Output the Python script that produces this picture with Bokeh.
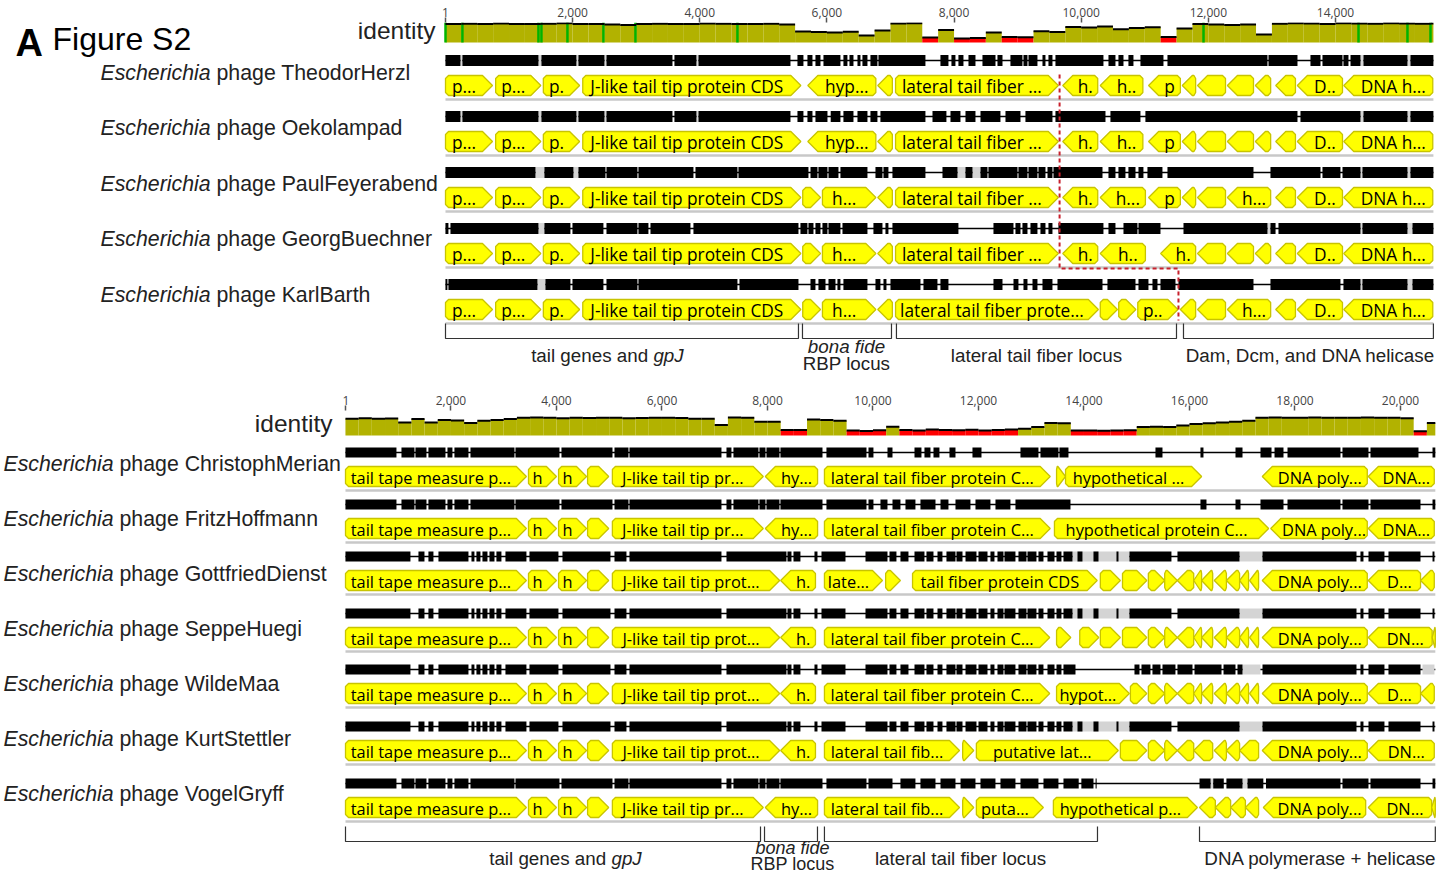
import numpy as np
from bokeh.plotting import figure
from bokeh.layouts import column, row
from bokeh.models import Range1d, FixedTicker, NumeralTickFormatter
from bokeh.core.properties import value
from bokeh.embed import file_html
from bokeh.resources import INLINE

# ======================= DATA : upper panel =======================
TOP_LENGTH = 15540
TOP_TICKS = [1, 2000, 4000, 6000, 8000, 10000, 12000, 14000]
TOP_PHAGES = ["TheodorHerzl", "Oekolampad", "PaulFeyerabend", "GeorgBuechner", "KarlBarth"]
IDENTITY_BIN = 250
TOP_IDENTITY = [93, 94, 92, 95, 93, 92, 94, 96, 93, 92, 90, 88, 93, 94, 92, 93, 95, 94, 93, 92, 94, 90,
                55, 52, 50, 54, 35, 60, 95, 96, 25, 62, 20, 22, 50, 28, 26, 56, 52,
                78, 75, 80, 66, 72, 76, 28, 70, 92, 90, 88, 90, 40,
                94, 96, 95, 93, 96, 95, 94, 96, 95, 94, 95]
TOP_FULL_IDENTITY = [1, 267, 1463, 1510, 1919, 2485, 2989, 4593, 11924, 14362, 15132, 15494]
TOP_BOUNDARY = [9660, 11530]
TOP_LOCUS_START = [1, 5616, 7094, 11609]
TOP_LOCUS_END = [5553, 7016, 11499, 15540]
TOP_LOCUS_LABEL_AT = [2548, 6308, 9296, 13606]

TH_GENES = [(1, 740, 1, "p..."), (790, 1500, 1, "p..."), (1540, 2110, 1, "p."),
            (2160, 5590, 1, "J-like tail tip protein CDS"), (5700, 6770, -1, "hyp..."),
            (6800, 7030, -1, ""), (7080, 9640, 1, "lateral tail fiber ..."),
            (9710, 10260, -1, "h."), (10300, 10970, -1, "h.."), (11060, 11560, -1, "p"),
            (11590, 11800, -1, ""), (11830, 12270, -1, ""), (12300, 12710, -1, ""),
            (12740, 12980, -1, ""), (13060, 13370, -1, ""), (13400, 14110, -1, "D.."),
            (14130, 15530, -1, "DNA h...")]
OE_GENES = [(1, 740, 1, "p..."), (790, 1500, 1, "p..."), (1540, 2110, 1, "p."),
            (2160, 5590, 1, "J-like tail tip protein CDS"), (5700, 6770, -1, "hyp..."),
            (6800, 7030, -1, ""), (7080, 9640, 1, "lateral tail fiber ..."),
            (9710, 10260, -1, "h."), (10300, 10970, -1, "h.."), (11060, 11560, -1, "p"),
            (11590, 11800, -1, ""), (11830, 12270, -1, ""), (12300, 12710, -1, ""),
            (12740, 12980, -1, ""), (13060, 13370, -1, ""), (13400, 14110, -1, "D.."),
            (14130, 15530, -1, "DNA h...")]
PF_GENES = [(1, 740, 1, "p..."), (790, 1500, 1, "p..."), (1540, 2110, 1, "p."),
            (2160, 5590, 1, "J-like tail tip protein CDS"), (5620, 5900, 1, ""),
            (5930, 6770, 1, "h..."), (6800, 7030, -1, ""), (7080, 9640, 1, "lateral tail fiber ..."),
            (9710, 10260, -1, "h."), (10300, 11010, -1, "h..."), (11060, 11560, -1, "p"),
            (11590, 11800, -1, ""), (11830, 12270, -1, ""), (12300, 12980, -1, "h..."),
            (13060, 13370, -1, ""), (13400, 14110, -1, "D.."), (14130, 15530, -1, "DNA h...")]
GB_GENES = [(1, 740, 1, "p..."), (790, 1500, 1, "p..."), (1540, 2110, 1, "p."),
            (2160, 5590, 1, "J-like tail tip protein CDS"), (5620, 5900, 1, ""),
            (5930, 6770, 1, "h..."), (6800, 7030, -1, ""), (7080, 9640, 1, "lateral tail fiber ..."),
            (9710, 10260, -1, "h."), (10300, 11010, -1, "h.."), (11250, 11800, -1, "h."),
            (11830, 12270, -1, ""), (12300, 12710, -1, ""), (12740, 12980, -1, ""),
            (13060, 13370, -1, ""), (13400, 14110, -1, "D.."), (14130, 15530, -1, "DNA h...")]
KB_GENES = [(1, 740, 1, "p..."), (790, 1500, 1, "p..."), (1540, 2110, 1, "p."),
            (2160, 5590, 1, "J-like tail tip protein CDS"), (5620, 5900, 1, ""),
            (5930, 6770, 1, "h..."), (6800, 7030, -1, ""),
            (7080, 10270, 1, "lateral tail fiber prote..."), (10300, 10570, 1, ""),
            (10590, 10860, 1, ""), (10890, 11520, 1, "p.."), (11560, 11800, -1, ""),
            (11830, 12270, -1, ""), (12300, 12980, -1, "h..."), (13060, 13370, -1, ""),
            (13400, 14110, -1, "D.."), (14130, 15530, -1, "DNA h...")]

TH_BLOCKS = [(0, 236), (267, 1463), (1510, 2060), (2092, 2501), (2533, 3571), (3602, 3948), (3980, 5427),
             (5537, 5631), (5694, 5773), (5820, 5899), (5946, 6213), (6260, 6323), (6355, 6418), (6481, 6528),
             (6559, 6638), (6685, 6795), (6811, 7550), (7786, 7912), (7959, 8022), (8069, 8148), (8227, 8337),
             (8447, 8652), (8683, 8762), (8887, 9076), (9092, 9155), (9171, 9312), (9391, 9438), (9485, 9548),
             (9595, 10350), (10429, 10539), (10586, 10665), (10743, 10822), (10932, 11294), (11357, 12930),
             (12946, 13402), (13606, 13764), (13795, 14110), (14125, 14204), (14236, 14393), (14440, 15132),
             (15179, 15540)]
TH_GREY = [(236, 267), (1463, 1510), (2060, 2092), (2501, 2533), (3948, 3980), (14393, 14440), (15132, 15179)]
OE_BLOCKS = [(0, 236), (267, 1463), (1510, 2060), (2092, 2501), (2533, 3571), (3602, 3948), (3980, 5427),
             (5537, 5631), (5694, 5773), (5820, 6009), (6060, 6213), (6260, 6418), (6481, 6638), (6685, 6795),
             (6842, 7550), (7661, 7880), (7944, 8101), (8180, 8337), (8416, 8730), (8809, 9045), (9123, 9548),
             (9595, 10382), (10460, 10932), (11010, 13402), (13449, 14393), (14440, 15132), (15179, 15540)]
OE_GREY = [(236, 267), (1463, 1510), (2060, 2092), (2501, 2533), (3948, 3980), (14393, 14440), (15132, 15179)]
PF_BLOCKS = [(0, 1416), (1557, 2013), (2092, 2517), (2533, 3020), (3036, 3901), (3933, 4593), (4609, 5710),
             (5742, 5852), (5867, 6009), (6025, 6182), (6213, 6638), (6764, 6874), (6890, 6968), (7031, 7550),
             (7818, 8054), (8180, 8290), (8416, 8526), (8541, 8998), (9013, 9155), (9171, 9312), (9328, 9438),
             (9470, 9548), (9564, 10335), (10429, 10539), (10586, 10696), (10743, 10854), (10901, 10979),
             (11042, 11278), (11357, 12710), (12977, 13764), (13795, 14078), (14110, 14393), (14424, 15132),
             (15179, 15540)]
PF_GREY = [(1416, 1557), (2013, 2092), (8054, 8180), (8290, 8416), (14393, 14424), (15132, 15179)]
GB_BLOCKS = [(0, 47), (79, 1463), (1557, 1966), (1998, 2485), (2533, 3020), (3036, 3193), (3225, 3854),
             (3901, 5553), (5584, 5694), (5710, 5789), (5820, 5899), (5930, 6009), (6025, 6213), (6245, 6638),
             (6732, 6874), (6921, 6968), (7031, 8069), (8620, 8935), (8966, 9045), (9076, 9155), (9202, 9312),
             (9359, 9438), (9485, 9548), (9642, 10350), (10429, 10539), (10665, 10885), (10901, 11247),
             (11609, 12930), (12977, 13057), (13103, 14393), (14424, 15132), (15211, 15540)]
GB_GREY = [(1463, 1557), (12930, 12977), (14393, 14424), (15132, 15211)]
KB_BLOCKS = [(0, 31), (47, 1447), (1573, 1966), (1998, 2485), (2533, 3020), (3036, 4593), (4625, 5553),
             (5742, 5820), (5867, 5978), (6025, 6135), (6166, 6213), (6260, 6638), (6764, 6842), (6890, 6937),
             (7000, 7472), (7519, 7739), (7786, 7912), (8620, 8762), (8935, 9013), (9092, 9155), (9234, 9312),
             (9391, 9548), (9627, 10335), (10413, 10854), (10901, 11058), (11121, 11200), (11247, 11483),
             (11530, 12710), (12977, 14078), (14125, 14393), (14424, 15132), (15211, 15540)]
KB_GREY = [(1447, 1573), (14393, 14424), (15132, 15211)]

# ======================= DATA : lower panel =======================
BOT_LENGTH = 20660
BOT_TICKS = [1, 2000, 4000, 6000, 8000, 10000, 12000, 14000, 16000, 18000, 20000]
BOT_PHAGES = ["ChristophMerian", "FritzHoffmann", "GottfriedDienst", "SeppeHuegi",
              "WildeMaa", "KurtStettler", "VogelGryff"]
BOT_IDENTITY = [80, 82, 80, 81, 62, 78, 62, 74, 72, 60,
                70, 74, 78, 84, 86, 84, 82, 84, 83, 85,
                84, 82, 83, 84, 85, 83, 80, 80, 50, 86,
                84, 66, 66, 26, 26, 76, 74, 70, 24, 22,
                25, 42, 26, 24, 28, 26, 25, 27, 24, 26,
                28, 32, 40, 60, 58, 24, 24, 23, 24, 25,
                40, 42, 40, 48, 55, 58, 62, 66, 70, 85,
                86, 84, 85, 86, 84, 85, 84, 86, 85, 84,
                82, 20, 60]
BOT_LOCUS_START = [1, 7944, 9080, 16190]
BOT_LOCUS_END = [7868, 8948, 14256, 20660]
BOT_LOCUS_LABEL_AT = [4171, 8474, 11659, 18483]

CM_GENES = [(1, 3430, 1, "tail tape measure p..."), (3470, 4000, 1, "h"), (4040, 4570, 1, "h"),
            (4590, 4990, 1, ""), (5060, 7920, 1, "J-like tail tip pr..."), (7960, 8950, -1, "hy..."),
            (9080, 13360, 1, "lateral tail fiber protein C..."), (13480, 13650, 1, ""),
            (13650, 16230, 1, "hypothetical ..."), (17380, 19370, -1, "DNA poly..."),
            (19390, 20640, -1, "DNA...")]
FH_GENES = [(1, 3430, 1, "tail tape measure p..."), (3470, 4000, 1, "h"), (4040, 4570, 1, "h"),
            (4590, 4990, 1, ""), (5060, 7920, 1, "J-like tail tip pr..."), (7960, 8950, -1, "hy..."),
            (9080, 13360, 1, "lateral tail fiber protein C..."),
            (13440, 17500, 1, "hypothetical protein C..."), (17540, 19370, -1, "DNA poly..."),
            (19390, 20640, -1, "DNA...")]
GD_GENES = [(1, 3430, 1, "tail tape measure p..."), (3470, 4000, 1, "h"), (4040, 4570, 1, "h"),
            (4590, 4990, 1, ""), (5060, 8230, 1, "J-like tail tip prot..."), (8250, 8910, -1, "h."),
            (9080, 10180, 1, "late..."), (10240, 10520, 1, ""), (10750, 14250, 1, "tail fiber protein CDS"),
            (14310, 14690, 1, ""), (14730, 15190, 1, ""), (15220, 15530, 1, ""), (15530, 15770, 1, ""),
            (15770, 16080, -1, ""), (16080, 16230, -1, ""), (16230, 16440, -1, ""), (16470, 16700, -1, ""),
            (16700, 16950, -1, ""), (16950, 17120, -1, ""), (17140, 17310, -1, ""),
            (17380, 19370, -1, "DNA poly..."), (19390, 20380, -1, "D..."), (20380, 20640, -1, "")]
SH_GENES = [(1, 3430, 1, "tail tape measure p..."), (3470, 4000, 1, "h"), (4040, 4570, 1, "h"),
            (4590, 4990, 1, ""), (5060, 8230, 1, "J-like tail tip prot..."), (8250, 8910, -1, "h."),
            (9080, 13350, 1, "lateral tail fiber protein C..."), (13480, 13750, 1, ""), (13920, 14280, 1, ""),
            (14310, 14690, 1, ""), (14730, 15190, 1, ""), (15220, 15530, 1, ""), (15530, 15770, 1, ""),
            (15770, 16080, -1, ""), (16080, 16230, -1, ""), (16230, 16440, -1, ""), (16470, 16700, -1, ""),
            (16700, 16950, -1, ""), (16950, 17120, -1, ""), (17140, 17310, -1, ""),
            (17380, 19370, -1, "DNA poly..."), (19390, 20600, -1, "DN..."), (20600, 20660, -1, "")]
WM_GENES = [(1, 3430, 1, "tail tape measure p..."), (3470, 4000, 1, "h"), (4040, 4570, 1, "h"),
            (4590, 4990, 1, ""), (5060, 8230, 1, "J-like tail tip prot..."), (8250, 8910, -1, "h."),
            (9080, 13350, 1, "lateral tail fiber protein C..."), (13480, 14860, 1, "hypot..."),
            (14880, 15190, 1, ""), (15220, 15530, 1, ""), (15530, 15770, 1, ""),
            (15770, 16080, -1, ""), (16080, 16230, -1, ""), (16230, 16440, -1, ""), (16470, 16700, -1, ""),
            (16700, 16950, -1, ""), (16950, 17120, -1, ""), (17140, 17310, -1, ""),
            (17380, 19370, -1, "DNA poly..."), (19390, 20380, -1, "D..."), (20380, 20640, -1, "")]
KS_GENES = [(1, 3430, 1, "tail tape measure p..."), (3470, 4000, 1, "h"), (4040, 4570, 1, "h"),
            (4590, 4990, 1, ""), (5060, 8230, 1, "J-like tail tip prot..."), (8250, 8910, -1, "h."),
            (9080, 11640, 1, "lateral tail fib..."), (11700, 11910, 1, ""), (11960, 14650, 1, "putative lat..."),
            (14690, 15190, 1, ""), (15220, 15530, 1, ""), (15530, 15770, 1, ""),
            (15770, 16080, -1, ""), (16080, 16440, -1, ""), (16470, 16700, -1, ""),
            (16700, 16950, -1, ""), (16950, 17310, -1, ""),
            (17380, 19370, -1, "DNA poly..."), (19390, 20640, -1, "DN...")]
VG_GENES = [(1, 3430, 1, "tail tape measure p..."), (3470, 4000, 1, "h"), (4040, 4570, 1, "h"),
            (4590, 4990, 1, ""), (5060, 7920, 1, "J-like tail tip pr..."), (7960, 8950, -1, "hy..."),
            (9080, 11640, 1, "lateral tail fib..."), (11700, 11910, 1, ""), (11960, 13230, 1, "puta..."),
            (13420, 16150, 1, "hypothetical p..."), (16190, 16490, -1, ""), (16490, 16780, -1, ""),
            (16780, 17060, -1, ""), (17060, 17310, -1, ""), (17400, 19340, -1, "DNA poly..."),
            (19390, 20590, -1, "DN..."), (20590, 20660, -1, "")]

CM_BLOCKS = [(0, 967), (1062, 1308), (1327, 1536), (1573, 1896), (1934, 2028), (2066, 2332), (2370, 3204),
             (3223, 4057), (4095, 5062), (5100, 5365), (5384, 7128), (7223, 7317), (7355, 7829), (7848, 7962),
             (7981, 8227), (8246, 9043), (9118, 9877), (9915, 10009), (10275, 10370), (10787, 10919),
             (10976, 11090), (11147, 11260), (11450, 11564), (11886, 12057), (12796, 13137), (13175, 13516),
             (13535, 13706), (15355, 15488), (16208, 16265), (16872, 17005), (17346, 17555), (17612, 17782),
             (17858, 18862), (18900, 19393), (19431, 20341), (20607, 20660)]
CM_GREY = []
FH_BLOCKS = [(0, 967), (1062, 1308), (1327, 1536), (1573, 1896), (1934, 2028), (2066, 2332), (2370, 3204),
             (3223, 4057), (4095, 5062), (5100, 5365), (5384, 7128), (7223, 7317), (7355, 7829), (7848, 7962),
             (7981, 8227), (8246, 9043), (9118, 9877), (9915, 10009), (10142, 10275), (10370, 10521),
             (10616, 10805), (10900, 11185), (11280, 11431), (11564, 11848), (11943, 12227), (12322, 12606),
             (12701, 13744), (16208, 16322), (16872, 16967), (17346, 17782), (17858, 18862), (18900, 19393),
             (19431, 20379), (20607, 20660)]
FH_GREY = []
SH_BLOCKS = [(0, 1232), (1384, 1498), (1573, 1668), (1763, 2332), (2389, 2445), (2483, 2559), (2597, 2692),
             (2730, 2825), (2862, 2957), (3033, 3431), (3488, 4038), (4114, 5024), (5100, 5327), (5384, 7128),
             (7223, 8360), (8379, 8455), (8493, 8625), (8891, 8948), (9024, 9479), (9858, 10275), (10313, 10445),
             (10521, 10673), (10787, 10976), (11014, 11147), (11223, 11317), (11393, 11564), (11583, 11697),
             (11754, 11962), (12000, 12171), (12227, 12303), (12360, 12474), (12493, 12701), (12758, 12910),
             (12929, 13099), (13137, 13232), (13308, 13441), (13479, 13573), (13611, 13782), (13877, 13971),
             (14180, 14275), (14616, 14654), (14862, 15658), (15772, 16948), (17384, 19166), (19241, 19298),
             (19393, 19696), (19772, 20379), (20607, 20644)]
SH_GREY = [(13782, 14862), (16948, 17384)]
GD_BLOCKS = list(SH_BLOCKS)
GD_GREY = list(SH_GREY)
WM_BLOCKS = [(0, 1232), (1384, 1498), (1573, 1668), (1763, 2332), (2389, 2445), (2483, 2559), (2597, 2692),
             (2730, 2825), (2862, 2957), (3033, 3431), (3488, 4038), (4114, 5024), (5100, 5327), (5384, 7128),
             (7223, 8360), (8379, 8455), (8493, 8625), (8891, 8948), (9024, 9479), (9858, 10275), (10313, 10445),
             (10521, 10673), (10787, 10976), (11014, 11147), (11223, 11317), (11393, 11564), (11583, 11697),
             (11754, 11962), (12000, 12171), (12227, 12303), (12360, 12474), (12493, 12701), (12758, 12910),
             (12929, 13099), (13137, 13232), (13308, 13441), (13479, 13573), (13611, 13839), (14957, 15052),
             (15090, 15260), (15298, 15450), (15488, 15734), (15772, 16057), (16095, 16607), (16645, 16872),
             (16910, 17005), (17384, 19166), (19241, 19298), (19393, 19696), (19772, 20379)]
WM_GREY = [(17005, 17346), (20417, 20644)]
KS_BLOCKS = list(SH_BLOCKS)
KS_GREY = list(SH_GREY)
VG_BLOCKS = [(0, 967), (1062, 1308), (1327, 1536), (1573, 1896), (1934, 2028), (2066, 2332), (2370, 3204),
             (3223, 4057), (4095, 5062), (5100, 5365), (5384, 7128), (7223, 7317), (7355, 7829), (7848, 7962),
             (7981, 8227), (8246, 9043), (9118, 9877), (9915, 10370), (10521, 10805), (10900, 11185),
             (11280, 11564), (11660, 11943), (12038, 12322), (12417, 12701), (12796, 13137), (13232, 13516),
             (13611, 13900), (13950, 14180), (14220, 14240),
             (16190, 16400), (16450, 16650), (16700, 17005), (17100, 17400), (17450, 18862), (18900, 19393),
             (19431, 20379), (20607, 20660)]
VG_GREY = [(16400, 16450), (17005, 17100)]

TOP_GENES = [TH_GENES, OE_GENES, PF_GENES, GB_GENES, KB_GENES]
TOP_BLOCKS = [TH_BLOCKS, OE_BLOCKS, PF_BLOCKS, GB_BLOCKS, KB_BLOCKS]
TOP_GREY = [TH_GREY, OE_GREY, PF_GREY, GB_GREY, KB_GREY]
BOT_GENES = [CM_GENES, FH_GENES, GD_GENES, SH_GENES, WM_GENES, KS_GENES, VG_GENES]
BOT_BLOCKS = [CM_BLOCKS, FH_BLOCKS, GD_BLOCKS, SH_BLOCKS, WM_BLOCKS, KS_BLOCKS, VG_BLOCKS]
BOT_GREY = [CM_GREY, FH_GREY, GD_GREY, SH_GREY, WM_GREY, KS_GREY, VG_GREY]

# ======================= LAYOUT / STYLE =======================
W = 1437
BORDER_TOP = 22
OLIVE, RED, GREEN = "#B2B200", "#FF0000", "#00B400"
YELLOW, YELLOW_EDGE = "#FFFF00", "#C8C400"
GAP_GREY, SEP_GREY = "#D4D4D4", "#C8C8C8"
TXT = "#222222"
SANS = "Liberation Sans"
GENE_FONT = "Open Sans"
TIP_PX, CHAMFER_PX, GENE_H = 10.0, 3.0, 20.0


def style_axis(p, ticks):
    ax = p.xaxis[0]
    ax.ticker = FixedTicker(ticks=ticks)
    ax.formatter = NumeralTickFormatter(format="0,0")
    ax.axis_line_color = None
    ax.major_tick_in = 0
    ax.major_tick_out = 5
    ax.minor_tick_line_color = None
    ax.major_tick_line_color = "#555555"
    ax.major_tick_line_width = 1.5
    ax.major_label_text_font = GENE_FONT
    ax.major_label_text_font_size = "12px"
    ax.major_label_text_color = "#444444"
    ax.major_label_standoff = 1


def base_fig(width, height, x_range, y_range, axis):
    p = figure(width=width, height=height, x_range=x_range, y_range=y_range,
               x_axis_location=axis, y_axis_location=None,
               toolbar_location=None, output_backend="svg",
               min_border_left=0, min_border_right=0, min_border_bottom=0, min_border_top=BORDER_TOP)
    p.outline_line_color = None
    p.grid.visible = False
    return p


def make_track_fig(left_px, height, win_top, px0, pxbp, ticks):
    width = W - left_px
    bp0 = 1 + (left_px - px0) / pxbp
    bp1 = 1 + (W - px0) / pxbp
    p = base_fig(width, height, Range1d(bp0, bp1),
                 Range1d(win_top + height, win_top + BORDER_TOP), "above")
    style_axis(p, ticks)
    return p


def make_label_fig(width, height, win_top):
    # plain panel in pixel units for the row titles; its frame is aligned with the track panel
    return base_fig(width, height, Range1d(0, width),
                    Range1d(win_top + height, win_top + BORDER_TOP), None)


def draw_identity(p, ident, length, y_base, h, full=None):
    ident = np.array(ident, dtype=float)
    lefts = np.arange(len(ident)) * IDENTITY_BIN
    rights = np.minimum(lefts + IDENTITY_BIN, length)
    tops = y_base - ident / 100.0 * h
    colors = [RED if v < 30 else OLIVE for v in ident]
    p.quad(left=lefts, right=rights, top=tops, bottom=y_base, fill_color=colors, line_color=None)
    if full:
        p.segment(x0=full, x1=full, y0=y_base, y1=y_base - h, line_color=GREEN, line_width=2.5)
    p.segment(x0=lefts, x1=rights, y0=tops, y1=tops, line_color="black", line_width=2)


def draw_alignment(p, blocks, grey, length, y, bh):
    p.segment(x0=[1], x1=[length], y0=[y], y1=[y], line_color="black", line_width=1.5)
    if grey:
        g = np.array(grey)
        p.quad(left=g[:, 0], right=g[:, 1], top=y - bh / 2, bottom=y + bh / 2,
               fill_color=GAP_GREY, line_color=None)
    b = np.array(blocks)
    p.quad(left=b[:, 0], right=b[:, 1], top=y - bh / 2, bottom=y + bh / 2,
           fill_color="black", line_color=None)


def draw_genes(p, genes, yc, pxbp, font_size):
    tip = TIP_PX / pxbp
    ch = CHAMFER_PX / pxbp
    hh = GENE_H / 2
    xs, ys, lx, lt = [], [], [], []
    for s, e, strand, lab in genes:
        L = e - s
        t = min(tip, 0.85 * L)
        c = min(ch, max(L - t, 0) / 2)
        if strand > 0:
            xs.append([s, s + c, e - t, e, e - t, s + c, s])
            cx = (s + e - t) / 2
        else:
            xs.append([e, e - c, s + t, s, s + t, e - c, e])
            cx = (s + t + e) / 2
        ys.append([yc - hh + CHAMFER_PX, yc - hh, yc - hh, yc, yc + hh, yc + hh, yc + hh - CHAMFER_PX])
        if lab:
            lx.append(cx)
            lt.append(lab)
    p.patches(xs=xs, ys=ys, fill_color=YELLOW, line_color=YELLOW_EDGE, line_width=1.3)
    p.text(x=lx, y=[yc + 0.5] * len(lx), text=lt, text_font=value(GENE_FONT),
           text_font_size=value(font_size), text_align=value("center"),
           text_baseline=value("middle"), text_color="black")


def draw_phage_labels(p, names, x, ys, fs=21.3):
    ital_w = (5.168 + 0.278) * fs   # width of "Escherichia " (Arial metrics)
    size = value(f"{fs}px")
    p.text(x=[x] * len(ys), y=ys, text=["Escherichia"] * len(ys), text_font=value(SANS),
           text_font_style=value("italic"), text_font_size=size, text_align=value("left"),
           text_baseline=value("middle"), text_color=TXT)
    p.text(x=[x] * len(ys), y=ys, text=["phage " + n for n in names], text_font=value(SANS),
           text_font_size=size, text_align=value("left"), x_offset=ital_w,
           text_baseline=value("middle"), text_color=TXT)


def draw_brackets(p, starts, ends, top, bot):
    xs = [[s, s, e, e] for s, e in zip(starts, ends)]
    ys = [[top, bot, bot, top] for _ in starts]
    p.multi_line(xs=xs, ys=ys, line_color="#333333", line_width=1.2)


def txt(p, x, y, s, size="18.8px", style="normal", align="center", xoff=0.0, font=SANS, color=TXT):
    p.text(x=[x], y=[y], text=[s], text_font=value(font), text_font_size=value(size),
           text_font_style=value(style), text_align=value(align), text_baseline=value("middle"),
           text_color=color, x_offset=xoff)


def tail_label(p, x, y, fs=18.8):
    w1, w2 = 6.504 * fs, 1.612 * fs
    total = w1 + w2
    txt(p, x, y, "tail genes and ", size=f"{fs}px", align="left", xoff=-total / 2)
    txt(p, x, y, "gpJ", size=f"{fs}px", style="italic", align="left", xoff=-total / 2 + w1)


# ======================= UPPER PANEL =======================
TOP_H = 388
TOP_SPLIT = 440
TOP_PXBP = (1335.0 - 445.0) / (14000 - 1)
top_lab = make_label_fig(TOP_SPLIT, TOP_H, 0)
top = make_track_fig(TOP_SPLIT, TOP_H, 0, 445.0, TOP_PXBP, TOP_TICKS)

ID_BASE_T, ID_H_T = 42.0, 20.0
draw_identity(top, TOP_IDENTITY, TOP_LENGTH, ID_BASE_T, ID_H_T, TOP_FULL_IDENTITY)
txt(top_lab, 435, 30, "identity", size="24.5px", align="right")
txt(top_lab, 52, 38, "Figure S2", size="32px", align="left", color="black")
txt(top_lab, 15, 42, "A", size="38px", style="bold", align="left", color="black")

TOP_BAR_Y = [60 + 56 * i for i in range(len(TOP_PHAGES))]
TOP_GENE_Y = [y + 25 for y in TOP_BAR_Y]
TOP_LABEL_Y = [72, 127, 183, 238, 294]
for i in range(len(TOP_PHAGES)):
    draw_alignment(top, TOP_BLOCKS[i], TOP_GREY[i], TOP_LENGTH, TOP_BAR_Y[i], 11)
    top.segment(x0=[1], x1=[TOP_LENGTH], y0=[TOP_GENE_Y[i] + 14], y1=[TOP_GENE_Y[i] + 14],
                line_color=SEP_GREY, line_width=2.5)
    draw_genes(top, TOP_GENES[i], TOP_GENE_Y[i], TOP_PXBP, "17.3px")
draw_phage_labels(top_lab, TOP_PHAGES, 100, TOP_LABEL_Y)

# red dashed boundary of the exchanged region
top.line(x=[TOP_BOUNDARY[0], TOP_BOUNDARY[0], TOP_BOUNDARY[1], TOP_BOUNDARY[1]],
         y=[TOP_GENE_Y[0] - 11, TOP_GENE_Y[3] + 15, TOP_GENE_Y[3] + 15, TOP_GENE_Y[4] + 11],
         line_color="#C8202C", line_width=2, line_dash="4 3")

draw_brackets(top, TOP_LOCUS_START, TOP_LOCUS_END, 323, 338)
tail_label(top, TOP_LOCUS_LABEL_AT[0], 355)
txt(top, TOP_LOCUS_LABEL_AT[1], 346, "bona fide", style="italic")
txt(top, TOP_LOCUS_LABEL_AT[1], 363, "RBP locus")
txt(top, TOP_LOCUS_LABEL_AT[2], 355, "lateral tail fiber locus")
txt(top, TOP_LOCUS_LABEL_AT[3], 355, "Dam, Dcm, and DNA helicase")

# ======================= LOWER PANEL =======================
BOT_H = 873 - TOP_H
BOT_SPLIT = 342
BOT_PXBP = (1400.0 - 345.0) / (20000 - 1)
bot_lab = make_label_fig(BOT_SPLIT, BOT_H, TOP_H)
bot = make_track_fig(BOT_SPLIT, BOT_H, TOP_H, 345.0, BOT_PXBP, BOT_TICKS)

ID_BASE_B, ID_H_B = 435.0, 21.0
draw_identity(bot, BOT_IDENTITY, BOT_LENGTH, ID_BASE_B, ID_H_B)
txt(bot_lab, 332, 423, "identity", size="24.5px", align="right")

BOT_BAR_Y = [452, 504, 556, 613, 669, 726, 783]
BOT_GENE_Y = [y + 24 for y in BOT_BAR_Y]
BOT_LABEL_Y = [463, 518, 573, 628, 683, 738, 793]
for i in range(len(BOT_PHAGES)):
    draw_alignment(bot, BOT_BLOCKS[i], BOT_GREY[i], BOT_LENGTH, BOT_BAR_Y[i], 10)
    bot.segment(x0=[1], x1=[BOT_LENGTH], y0=[BOT_GENE_Y[i] + 14], y1=[BOT_GENE_Y[i] + 14],
                line_color=SEP_GREY, line_width=2.5)
    draw_genes(bot, BOT_GENES[i], BOT_GENE_Y[i], BOT_PXBP, "16.4px")
draw_phage_labels(bot_lab, BOT_PHAGES, 3, BOT_LABEL_Y, fs=21.3)

draw_brackets(bot, BOT_LOCUS_START, BOT_LOCUS_END, 826, 841)
tail_label(bot, BOT_LOCUS_LABEL_AT[0], 858)
txt(bot, BOT_LOCUS_LABEL_AT[1], 847, "bona fide", size="18px", style="italic")
txt(bot, BOT_LOCUS_LABEL_AT[1], 863, "RBP locus", size="18px")
txt(bot, BOT_LOCUS_LABEL_AT[2], 858, "lateral tail fiber locus")
txt(bot, BOT_LOCUS_LABEL_AT[3], 858, "DNA polymerase + helicase")

layout = column(row(top_lab, top, spacing=0), row(bot_lab, bot, spacing=0), spacing=0)
open("out.html", "w").write(file_html(layout, INLINE))
